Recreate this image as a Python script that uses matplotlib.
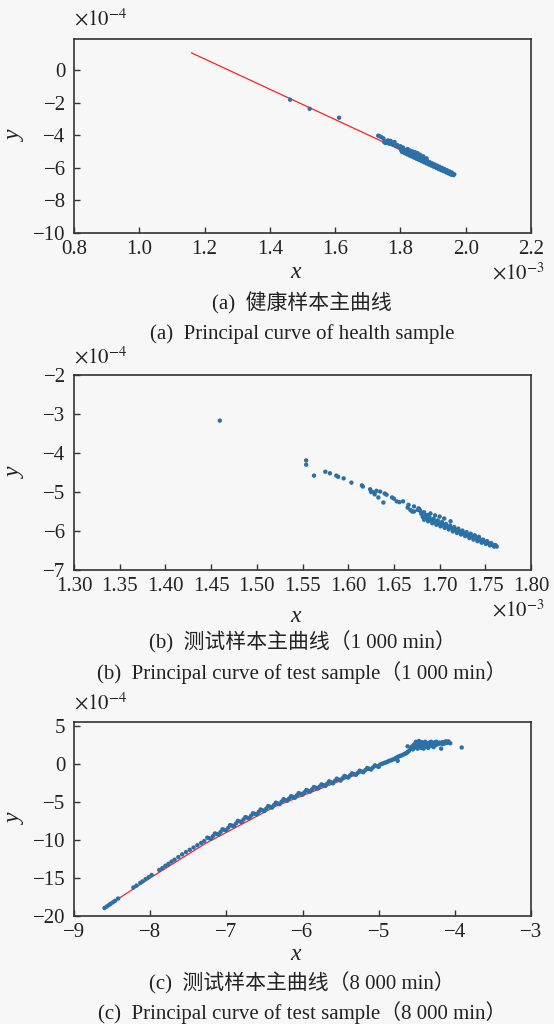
import matplotlib
matplotlib.use("Agg")
import matplotlib.pyplot as plt

plt.rcParams['font.family'] = ['Liberation Serif', 'Noto Sans CJK SC', 'DejaVu Sans']
plt.rcParams['mathtext.fontset'] = 'stix'

# ---------------- Data (panel a/b: x in 1e-3, y in 1e-4; panel c: both in 1e-4) ----------------
a_x = [1.462, 1.522, 1.612,
       1.732, 1.737, 1.742, 1.748, 1.750, 1.754, 1.757, 1.762, 1.765, 1.770, 1.774, 1.778,
       1.782, 1.786, 1.790, 1.795, 1.800, 1.804, 1.808, 1.812,
       1.822, 1.830, 1.838, 1.845, 1.852, 1.860, 1.870, 1.880,
       1.8000, 1.8025, 1.8050, 1.8075, 1.8100, 1.8125, 1.8150, 1.8175, 1.8200, 1.8225,
       1.8250, 1.8275, 1.8300, 1.8325, 1.8350, 1.8375, 1.8400, 1.8425, 1.8450, 1.8475,
       1.8500, 1.8525, 1.8550, 1.8575, 1.8600, 1.8625, 1.8650, 1.8675, 1.8700, 1.8725,
       1.8750, 1.8775, 1.8800, 1.8825, 1.8850, 1.8875, 1.8900, 1.8925, 1.8950, 1.8975,
       1.9000, 1.9025, 1.9050, 1.9075, 1.9100, 1.9125, 1.9150, 1.9175, 1.9200, 1.9225,
       1.9250, 1.9275, 1.9300, 1.9325, 1.9350, 1.9375, 1.9400, 1.9425, 1.9450, 1.9475,
       1.9500, 1.9525, 1.9550, 1.9575, 1.9600, 1.9625, 1.9650]
a_y = [-1.82, -2.38, -2.93,
       -4.03, -4.07, -4.12, -4.20, -4.42, -4.48, -4.38, -4.32, -4.52, -4.35, -4.46, -4.58,
       -4.42, -4.66, -4.60, -4.72, -4.68, -4.82, -4.76, -4.90,
       -4.85, -4.95, -5.00, -5.05, -5.10, -5.20, -5.30, -5.42,
       -4.82, -4.93, -5.03, -4.89, -5.00, -5.10, -4.96, -5.07, -5.17, -5.03,
       -5.14, -5.24, -5.10, -5.20, -5.31, -5.17, -5.27, -5.38, -5.24, -5.34,
       -5.45, -5.31, -5.41, -5.52, -5.38, -5.48, -5.59, -5.45, -5.55, -5.66,
       -5.52, -5.62, -5.73, -5.59, -5.69, -5.80, -5.66, -5.76, -5.87, -5.73,
       -5.83, -5.94, -5.80, -5.90, -6.01, -5.87, -5.97, -6.08, -5.94, -6.04,
       -6.15, -6.01, -6.11, -6.21, -6.08, -6.18, -6.28, -6.15, -6.25, -6.35,
       -6.22, -6.32, -6.42, -6.29, -6.39, -6.45, -6.40]
a_curve_x = [1.16, 1.96]
a_curve_y = [1.05, -6.39]

b_x = [1.4595, 1.554, 1.554, 1.5626, 1.575, 1.580, 1.587, 1.589, 1.595, 1.6035, 1.615, 1.616,
       1.624, 1.625, 1.627, 1.629, 1.631, 1.633, 1.635, 1.6385, 1.640, 1.642, 1.648, 1.650,
       1.653, 1.656, 1.660, 1.666, 1.668, 1.670, 1.672, 1.676, 1.677, 1.679, 1.683, 1.687,
       1.665, 1.672, 1.678, 1.690, 1.695, 1.700, 1.705, 1.712,
       1.6800, 1.6815, 1.6830, 1.6845, 1.6860, 1.6875, 1.6890, 1.6905, 1.6920, 1.6935,
       1.6950, 1.6965, 1.6980, 1.6995, 1.7010, 1.7025, 1.7040, 1.7055, 1.7070, 1.7085,
       1.7100, 1.7115, 1.7130, 1.7145, 1.7160, 1.7175, 1.7190, 1.7205, 1.7220, 1.7235,
       1.7250, 1.7265, 1.7280, 1.7295, 1.7310, 1.7325, 1.7340, 1.7355, 1.7370, 1.7385,
       1.7400, 1.7415, 1.7430, 1.7445, 1.7460, 1.7475, 1.7490, 1.7505, 1.7520, 1.7535,
       1.7550, 1.7565, 1.7580, 1.7595, 1.7610, 1.7625]
b_y = [-3.17, -4.19, -4.30, -4.58, -4.48, -4.52, -4.58, -4.61, -4.65, -4.76, -4.83, -4.86,
       -4.93, -5.00, -5.00, -5.06, -4.97, -5.14, -4.99, -5.27, -5.04, -5.07, -5.14, -5.17,
       -5.24, -5.26, -5.24, -5.33, -5.46, -5.50, -5.37, -5.46, -5.42, -5.49, -5.52, -5.59,
       -5.40, -5.50, -5.45, -5.55, -5.60, -5.63, -5.68, -5.75,
       -5.56, -5.64, -5.71, -5.60, -5.68, -5.75, -5.65, -5.72, -5.80, -5.69,
       -5.76, -5.84, -5.73, -5.81, -5.88, -5.77, -5.85, -5.92, -5.82, -5.89,
       -5.96, -5.86, -5.93, -6.01, -5.90, -5.97, -6.05, -5.94, -6.02, -6.09,
       -5.99, -6.06, -6.13, -6.03, -6.10, -6.18, -6.07, -6.14, -6.22, -6.11,
       -6.19, -6.26, -6.15, -6.23, -6.30, -6.22, -6.27, -6.33, -6.26, -6.31,
       -6.37, -6.31, -6.36, -6.40, -6.36, -6.40]

c_x = [-8.60, -8.57, -8.54, -8.52, -8.49, -8.46, -8.42, -8.22, -8.18, -8.13, -8.10, -8.06,
       -8.02, -7.98, -7.88, -7.84, -7.80, -7.76, -7.72, -7.68, -7.63, -7.58, -7.53, -7.48,
       -7.43, -7.38, -7.33, -7.29,
       -7.25, -7.20, -7.15, -7.10, -7.05, -7.00, -6.95, -6.90, -6.85, -6.80, -6.75, -6.70,
       -6.65, -6.60, -6.55, -6.50, -6.45, -6.40, -6.35, -6.30, -6.25, -6.20, -6.15, -6.10,
       -6.05, -6.00, -5.95, -5.90, -5.85, -5.80, -5.75, -5.70, -5.65, -5.60, -5.55, -5.50,
       -5.45, -5.40, -5.35, -5.30, -5.25, -5.20, -5.15, -5.10, -5.05, -5.00,
       -7.225, -7.175, -7.125, -7.075, -7.025, -6.975, -6.925, -6.875, -6.825, -6.775,
       -6.725, -6.675, -6.625, -6.575, -6.525, -6.475, -6.425, -6.375, -6.325, -6.275,
       -6.225, -6.175, -6.125, -6.075, -6.025, -5.975, -5.925, -5.875, -5.825, -5.775,
       -5.725, -5.675, -5.625, -5.575, -5.525, -5.475, -5.425, -5.375, -5.325, -5.275,
       -5.225, -5.175, -5.125, -5.075, -5.025,
       -4.98, -4.96, -4.94, -4.92, -4.90, -4.88, -4.86, -4.84, -4.82, -4.80, -4.78, -4.76,
       -4.75, -4.74, -4.72, -4.70, -4.68, -4.66, -4.65, -4.63, -4.62, -4.60,
       -4.62, -4.58, -4.56, -4.55, -4.53, -4.52, -4.51, -4.50, -4.49, -4.48, -4.47, -4.46,
       -4.45, -4.44, -4.43, -4.42, -4.41, -4.40, -4.39, -4.38, -4.36, -4.35, -4.34, -4.32,
       -4.31, -4.30, -4.28, -4.27, -4.25, -4.24, -4.22, -4.20, -4.18, -4.16, -4.14, -4.12,
       -4.10, -4.08, -4.06, -3.91,
       -4.57, -4.54, -4.50, -4.47, -4.44, -4.41, -4.37, -4.33, -4.29, -4.26, -4.21, -4.17,
       -4.13, -4.09, -4.48, -4.43, -4.39, -4.35]
c_y = [-18.95, -18.75, -18.55, -18.40, -18.20, -18.00, -17.70, -16.25, -16.00, -15.65, -15.45, -15.15,
       -14.90, -14.60, -13.95, -13.70, -13.40, -13.15, -12.85, -12.60, -12.25, -11.90, -11.60, -11.30,
       -11.00, -10.70, -10.40, -10.15,
       -9.70, -9.85, -9.15, -9.30, -8.60, -8.75, -8.05, -8.20, -7.50, -7.65, -7.00, -7.15,
       -6.50, -6.65, -6.00, -6.20, -5.55, -5.75, -5.10, -5.30, -4.65, -4.85, -4.25, -4.45,
       -3.85, -4.05, -3.45, -3.65, -3.05, -3.25, -2.70, -2.90, -2.30, -2.55, -1.95, -2.20,
       -1.60, -1.80, -1.25, -1.45, -0.90, -1.10, -0.55, -0.75, -0.20, -0.40,
       -9.78, -9.50, -9.22, -8.95, -8.68, -8.40, -8.12, -7.85, -7.58, -7.32,
       -7.08, -6.82, -6.58, -6.32, -6.10, -5.88, -5.65, -5.42, -5.20, -4.98,
       -4.75, -4.55, -4.35, -4.15, -3.95, -3.75, -3.55, -3.35, -3.15, -2.98,
       -2.80, -2.60, -2.42, -2.25, -2.08, -1.90, -1.70, -1.52, -1.35, -1.18,
       -1.00, -0.82, -0.65, -0.48, -0.30,
       -0.10, 0.00, 0.05, 0.15, 0.20, 0.30, 0.40, 0.45, 0.55, 0.60, 0.75, 0.85,
       0.40, 0.95, 1.05, 1.10, 1.20, 1.30, 1.35, 1.45, 1.55, 1.70,
       2.30, 2.00, 2.30, 1.90, 2.60, 2.20, 2.90, 2.40, 2.00, 2.70, 3.00, 2.30,
       2.60, 2.10, 2.80, 2.40, 2.00, 2.60, 2.90, 2.30, 2.50, 2.10, 2.75, 2.40,
       2.90, 2.55, 2.20, 2.70, 2.45, 2.90, 2.60, 2.80, 2.00, 2.85, 2.65, 2.95,
       2.75, 2.90, 2.70, 2.15,
       2.15, 2.45, 2.70, 2.50, 2.85, 2.20, 2.65, 2.80, 2.35, 2.85, 2.70, 2.60,
       2.80, 2.95, 2.15, 2.50, 2.75, 2.20]
c_curve_x = [-8.55, -8.00, -7.28, -6.35, -5.12]
c_curve_y = [-18.60, -15.00, -10.50, -5.56, -0.73]

a_xticks = [0.8, 1.0, 1.2, 1.4, 1.6, 1.8, 2.0, 2.2]
a_yticks = [0, -2, -4, -6, -8, -10]
b_xticks = [1.30, 1.35, 1.40, 1.45, 1.50, 1.55, 1.60, 1.65, 1.70, 1.75, 1.80]
b_yticks = [-2, -3, -4, -5, -6, -7]
c_xticks = [-9, -8, -7, -6, -5, -4, -3]
c_yticks = [5, 0, -5, -10, -15, -20]

cap_a = ["(a)  健康样本主曲线", "(a)  Principal curve of health sample"]
cap_b = ["(b)  测试样本主曲线（1 000 min）", "(b)  Principal curve of test sample（1 000 min）"]
cap_c = ["(c)  测试样本主曲线（8 000 min）", "(c)  Principal curve of test sample（8 000 min）"]

# ---------------- Figure ----------------
W, H = 554, 1024
BG = '#f7f7f7'
DOT = '#2b70a6'
TXT = '#222222'
fig = plt.figure(figsize=(W / 100, H / 100), dpi=100, facecolor=BG)


def fx(px):
    return px / W


def fy(py):
    return 1 - py / H


L, R = 74, 531


def make_axes(top, bottom):
    ax = fig.add_axes([fx(L), fy(bottom), fx(R - L), (bottom - top) / H])
    ax.set_facecolor(BG)
    for s in ax.spines.values():
        s.set_color('#333333')
        s.set_linewidth(1.2)
    ax.tick_params(direction='in', length=4, width=1.0, colors='#333333',
                   labelsize=15, labelcolor=TXT, top=False, right=False, pad=5)
    ax.tick_params(axis='y', pad=6)
    return ax


def fmt(s):
    return s.replace('-', '\u2212')


panels = [
    dict(top=39, bottom=233, x=a_x, y=a_y, cx=a_curve_x, cy=a_curve_y,
         xt=a_xticks, yt=a_yticks, xlim=(0.8, 2.2), ylim=(-10, 1.9), xfmt='%.1f',
         xoff=True, cap=cap_a, xlab_y=272, xoff_y=274, cap_y=(303, 334), yoff_y=20),
    dict(top=375, bottom=570, x=b_x, y=b_y, cx=None, cy=None,
         xt=b_xticks, yt=b_yticks, xlim=(1.30, 1.80), ylim=(-7, -2), xfmt='%.2f',
         xoff=True, cap=cap_b, xlab_y=616, xoff_y=611, cap_y=(642, 673), yoff_y=358),
    dict(top=722, bottom=916, x=c_x, y=c_y, cx=c_curve_x, cy=c_curve_y,
         xt=c_xticks, yt=c_yticks, xlim=(-9, -3), ylim=(-20, 5.5), xfmt='%d',
         xoff=False, cap=cap_c, xlab_y=955, xoff_y=None, cap_y=(983, 1013), yoff_y=704),
]

for p in panels:
    ax = make_axes(p['top'], p['bottom'])
    if p['cx'] is not None:
        ax.plot(p['cx'], p['cy'], color='#ff2020', lw=0.9, zorder=2)
    ax.scatter(p['x'], p['y'], s=10, color=DOT, edgecolors='none', zorder=3)
    ax.set_xlim(*p['xlim'])
    ax.set_ylim(*p['ylim'])
    ax.set_xticks(p['xt'])
    ax.set_xticklabels([fmt(p['xfmt'] % v) for v in p['xt']])
    ax.set_yticks(p['yt'])
    ax.set_yticklabels([fmt('%d' % v) for v in p['yt']])
    fig.text(fx(74), fy(p['yoff_y']), r'$\times10^{-4}$', fontsize=15, color=TXT,
             ha='left', va='center')
    if p['xoff']:
        fig.text(fx(545), fy(p['xoff_y']), r'$\times10^{-3}$', fontsize=15, color=TXT,
                 ha='right', va='center')
    fig.text(fx(296), fy(p['xlab_y']), 'x', fontsize=17, style='italic', color=TXT,
             ha='center', va='center')
    fig.text(fx(15), fy((p['top'] + p['bottom']) / 2), 'y', fontsize=17, style='italic',
             color=TXT, ha='center', va='center', rotation=90)
    fig.text(fx(302), fy(p['cap_y'][0]), p['cap'][0], fontsize=15, color=TXT,
             ha='center', va='center')
    fig.text(fx(302), fy(p['cap_y'][1]), p['cap'][1], fontsize=15, color=TXT,
             ha='center', va='center')

fig.savefig('out.png', dpi=100, facecolor=BG)
